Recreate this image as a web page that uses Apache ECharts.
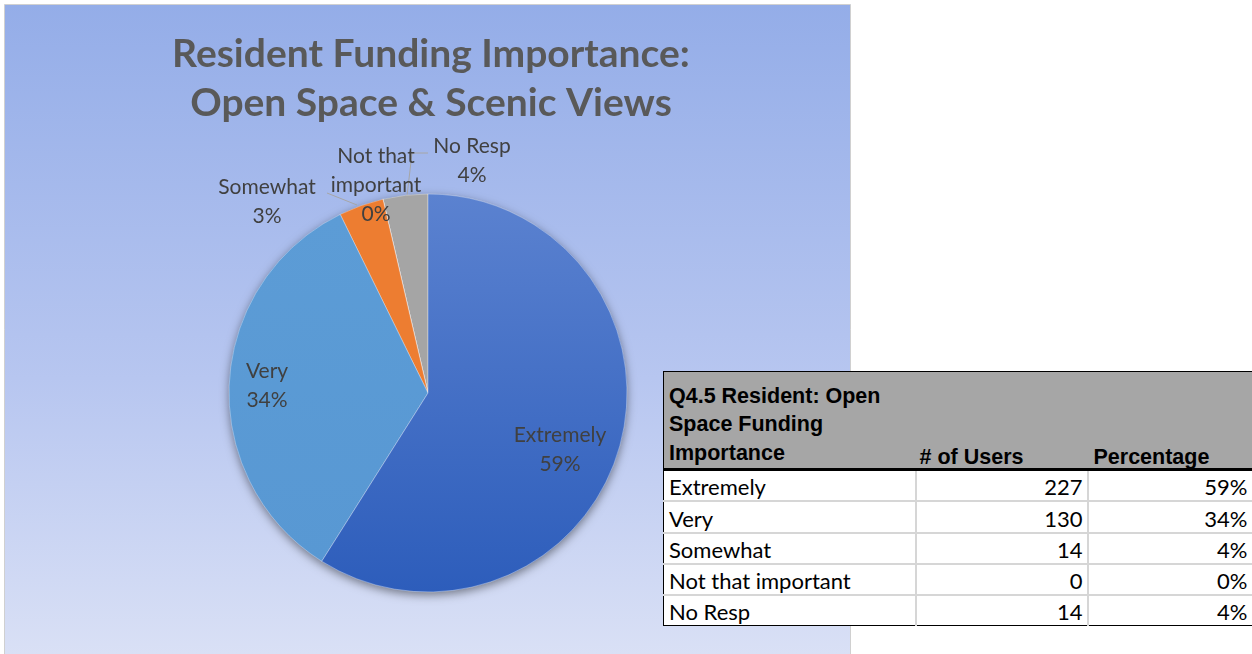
<!DOCTYPE html>
<html>
<head>
<meta charset="utf-8">
<script src="https://cdn.jsdelivr.net/npm/echarts@6/dist/echarts.min.js"></script>
<style>
  html, body { margin: 0; padding: 0; background: #ffffff; overflow: hidden; }
  #chart { position: absolute; left: 0; top: 0; width: 1252px; height: 654px; }
  #tbl { position: absolute; left: 663px; top: 371px; border-collapse: collapse; background: #fff;
         border: 1.5px solid #000; border-right: none; table-layout: fixed; }
  #tbl th { background: #a6a6a6; font-family: "Liberation Sans", Arial, sans-serif; font-weight: bold;
            font-size: 21.5px; color: #000; text-align: left; vertical-align: bottom; padding: 0 0 0 5px;
            border-bottom: 3px solid #000; line-height: 28.5px; }
  #tbl th.sub { line-height: 22px; padding-bottom: 0; }
  #tbl td { font-family: Lato, "Noto Sans", sans-serif; font-size: 22px; color: #000; height: 26px;
            padding: 3.25px 4px 0 5px; border: 2px solid #d6d6d6; line-height: 26px; white-space: nowrap; }
  #tbl td.num { text-align: right; }
  #tbl tr:last-child td { border-bottom: none; }
  #tbl td:first-child { border-left: none; }
  #tbl td:last-child { border-right: none; }
</style>
</head>
<body>
<div id="chart"></div>
<table id="tbl"></table>
<script>
// Survey responses: Q4.5 Resident - Open Space funding importance
const categories = ['Extremely', 'Very', 'Somewhat', 'Not that important', 'No Resp'];
const users = [227, 130, 14, 0, 14];
const sliceLabels = ['Extremely', 'Very', 'Somewhat', 'Not that\nimportant', 'No Resp'];
const sliceColors = ['#4472c4', '#5b9bd5', '#ed7d31', '#ffc000', '#a5a5a5'];
const titleText = 'Resident Funding Importance:\nOpen Space & Scenic Views';
const tableTitleLines = ['Q4.5 Resident: Open', 'Space Funding', 'Importance'];
const tableColumns = ['# of Users', 'Percentage'];

const total = users.reduce((a, b) => a + b, 0);

// ---- table ----
const tbl = document.getElementById('tbl');
let html = '<colgroup><col style="width:252px"><col style="width:172px"><col style="width:164px"></colgroup>';
html += '<tr style="height:98px"><th style="padding-bottom:1px">' + tableTitleLines.join('<br>') + '</th>' +
        '<th class="sub" style="padding-left:4px">' + tableColumns[0] + '</th><th class="sub" style="padding-left:6px">' + tableColumns[1] + '</th></tr>';
categories.forEach((c, i) => {
  html += '<tr><td>' + c + '</td><td class="num">' + users[i] + '</td><td class="num">' +
          Math.round(users[i] / total * 100) + '%</td></tr>';
});
tbl.innerHTML = html;

// ---- pie ----
const chart = echarts.init(document.getElementById('chart'), null, { renderer: 'canvas' });

// slices run counter-clockwise from 12 o'clock, so feed them in reverse order
const order = categories.map((_, i) => i).reverse();

const labelPos = {
  'Extremely': { x: 560, y: 450 },
  'Very': { x: 267, y: 386 },
  'Somewhat': { x: 267, y: 202 },
  'Not that important': { x: 376, y: 185 },
  'No Resp': { x: 472, y: 161 }
};
const labelLines = {
  'Somewhat': [[327, 193], [342, 199], [357, 205]],
  'No Resp': [[407, 196], [412, 153], [428, 153]]
};

const fills = {
  'Extremely': new echarts.graphic.LinearGradient(0, 0, 0, 1, [
    { offset: 0, color: '#5b82d0' }, { offset: 1, color: '#2d5dbb' }]),
  'Very': new echarts.graphic.LinearGradient(0, 0, 0, 1, [
    { offset: 0, color: '#5c9cd6' }, { offset: 1, color: '#5898d3' }])
};

const pieData = order.map(i => {
  const name = categories[i];
  const inside = name === 'Extremely' || name === 'Very';
  return {
    name: name,
    value: users[i],
    itemStyle: { color: fills[name] || sliceColors[i] },
    label: { position: inside ? 'inside' : 'outside' },
    labelLine: { show: !!labelLines[name] }
  };
});

const option = {
  backgroundColor: '#ffffff',
  animation: false,
  graphic: [{
    type: 'rect',
    z: -10,
    shape: { x: 4.5, y: 4.5, width: 846, height: 680 },
    style: {
      fill: new echarts.graphic.LinearGradient(0, 0, 0, 1, [
        { offset: 0, color: '#94ade8' },
        { offset: 0.55, color: '#b7c6f0' },
        { offset: 1, color: '#dde3f6' }
      ]),
      stroke: '#d0d0d0', lineWidth: 1
    },
    silent: true
  }],
  title: {
    text: titleText,
    left: 426,
    top: 25,
    textAlign: 'center',
    textStyle: {
      fontFamily: 'Lato, "Open Sans", sans-serif',
      fontWeight: 'bold',
      fontSize: 39,
      lineHeight: 49,
      color: '#595959'
    }
  },
  series: [
    {
      // soft drop shadow under the whole pie
      type: 'pie',
      silent: true,
      z: 1,
      center: [428, 393],
      radius: 199,
      label: { show: false },
      labelLine: { show: false },
      itemStyle: { color: '#5b82d0', shadowBlur: 10, shadowOffsetY: 3, shadowColor: 'rgba(0,0,0,0.45)' },
      data: [{ value: total }]
    },
    {
      type: 'pie',
      z: 2,
      center: [428, 393],
      radius: 199,
      startAngle: 90,
      clockwise: false,
      percentPrecision: 0,
      avoidLabelOverlap: false,
      itemStyle: { borderColor: 'rgba(255,255,255,0.45)', borderWidth: 0.75 },
      emphasis: { disabled: true },
      label: {
        show: true,
        color: '#404040',
        fontFamily: 'Lato, "Open Sans", sans-serif',
        fontSize: 21,
        lineHeight: 29,
        align: 'center',
        formatter: p => sliceLabels[categories.indexOf(p.name)] + '\n' + p.percent + '%'
      },
      labelLine: { lineStyle: { color: '#a6a6a6', width: 1 } },
      labelLayout: params => {
        const name = pieData[params.dataIndex].name;
        const pos = labelPos[name];
        const out = { x: pos.x, y: pos.y, align: 'center', verticalAlign: 'middle' };
        if (labelLines[name]) out.labelLinePoints = labelLines[name];
        return out;
      },
      data: pieData
    }
  ]
};

chart.setOption(option);
</script>
</body>
</html>
